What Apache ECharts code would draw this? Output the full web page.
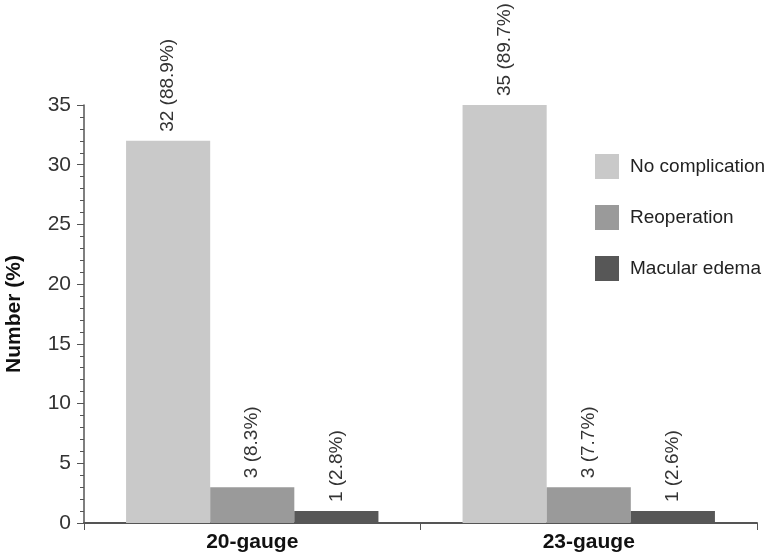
<!DOCTYPE html>
<html>
<head>
<meta charset="utf-8">
<script src="https://cdn.jsdelivr.net/npm/echarts@6/dist/echarts.min.js"></script>
<style>
  html, body { margin: 0; padding: 0; background: #fff; }
  #chart { width: 766px; height: 559px; }
</style>
</head>
<body>
<div id="chart"></div>
<script>
const groups = ['20-gauge', '23-gauge']
const seriesNames = ['No complication', 'Reoperation', 'Macular edema']
const noComplication = [32, 35]
const reoperation = [3, 3]
const macularEdema = [1, 1]
const noComplicationPct = ['88.9%', '89.7%']
const reoperationPct = ['8.3%', '7.7%']
const macularEdemaPct = ['2.8%', '2.6%']
const colors = ['#c9c9c9', '#9a9a9a', '#575757']

const chart = echarts.init(document.getElementById('chart'))

function makeSeries(name, values, pct, color) {
  return {
    name: name,
    type: 'bar',
    data: values,
    barGap: '0%',
    barCategoryGap: '25%',
    itemStyle: { color: color },
    label: {
      show: true,
      position: 'top',
      rotate: 90,
      align: 'left',
      verticalAlign: 'middle',
      distance: 9,
      fontFamily: 'Liberation Sans, Arial',
      fontSize: 19,
      color: '#333',
      formatter: (p) => values[p.dataIndex] + ' (' + pct[p.dataIndex] + ')'
    }
  }
}

chart.setOption({
  animation: false,
  textStyle: { fontFamily: 'Liberation Sans, Arial' },
  grid: { left: 84, right: 9, top: 105, bottom: 36, containLabel: false, outerBoundsMode: 'none' },
  legend: {
    orient: 'vertical',
    left: 590,
    top: 149,
    itemWidth: 24,
    itemHeight: 25,
    itemGap: 26,
    icon: 'rect',
    textStyle: { fontSize: 19, color: '#222', padding: [0, 0, 0, 6] },
    data: seriesNames
  },
  xAxis: {
    type: 'category',
    data: groups,
    axisLine: { lineStyle: { color: '#555', width: 2 } },
    axisTick: { show: true, length: 7, lineStyle: { color: '#555' } },
    axisLabel: { fontSize: 21, fontWeight: 'bold', color: '#111', margin: 9 }
  },
  yAxis: {
    type: 'value',
    min: 0,
    max: 35,
    interval: 5,
    name: 'Number (%)',
    nameLocation: 'middle',
    nameGap: 59,
    nameTextStyle: { fontSize: 21, fontWeight: 'bold', color: '#111' },
    splitLine: { show: false },
    axisLine: { show: true, lineStyle: { color: '#555', width: 1.5 } },
    axisTick: { show: true, length: 7, lineStyle: { color: '#555' } },
    minorTick: { show: true, splitNumber: 5, length: 4, lineStyle: { color: '#555' } },
    axisLabel: { fontSize: 21, color: '#333', margin: 13 }
  },
  series: [
    makeSeries(seriesNames[0], noComplication, noComplicationPct, colors[0]),
    makeSeries(seriesNames[1], reoperation, reoperationPct, colors[1]),
    makeSeries(seriesNames[2], macularEdema, macularEdemaPct, colors[2])
  ]
})
</script>
</body>
</html>
